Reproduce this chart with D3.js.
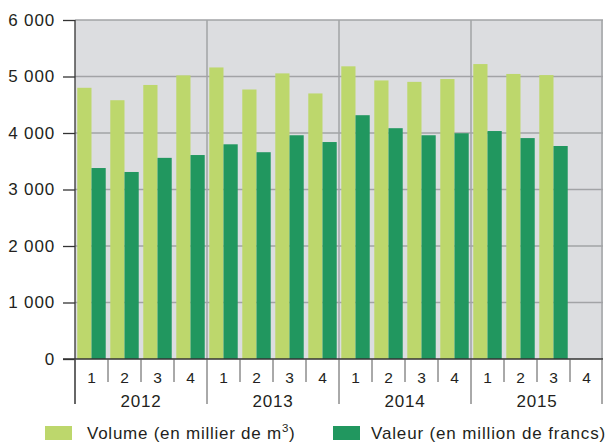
<!DOCTYPE html>
<html>
<head>
<meta charset="utf-8">
<script src="https://cdn.jsdelivr.net/npm/d3@7"></script>
<style>
  body{margin:0;background:#fff;}
  text{font-family:"Liberation Sans",Arial,sans-serif;fill:#231f20;}
</style>
</head>
<body>
<div id="chart"></div>
<script>
const years=["2012","2013","2014","2015"];
const quarters=["1","2","3","4"];
// one entry per quarter, 2012 Q1 … 2015 Q4 (null = not yet published)
const volume=[4800,4580,4850,5020, 5160,4770,5055,4700, 5180,4930,4905,4955, 5220,5045,5025,null];
const valeur=[3380,3310,3560,3610, 3800,3660,3960,3840, 4315,4085,3960,3995, 4035,3910,3770,null];
const yTicks=[0,1000,2000,3000,4000,5000,6000];
const seriesNames=["Volume (en millier de m","Valeur (en million de francs)"];

const W=605,H=443;
const m={l:75,r:2,t:20,b:84};
const svg=d3.select("#chart").append("svg").attr("width",W).attr("height",H);

const keys=years.flatMap(y=>quarters.map(q=>y+"-"+q));
const x=d3.scaleBand().domain(keys).range([m.l,W-m.r]);
const xs=d3.scaleBand().domain(["vol","val"]).range([0,x.bandwidth()]).paddingOuter(0.16);
const y=d3.scaleLinear().domain([0,6000]).range([H-m.b,m.t]);
const yearX=d3.scaleBand().domain(years).range([m.l,W-m.r]);

const light="#bdd76c",dark="#21975f";
const ls=0.85; // the original type is set a touch wider than Arial

svg.append("rect").attr("x",m.l).attr("y",m.t)
  .attr("width",W-m.r-m.l).attr("height",y(0)-m.t).attr("fill","#dcdde0");

svg.selectAll(".grid").data(yTicks.slice(1)).join("line")
  .attr("x1",m.l).attr("x2",W-m.r)
  .attr("y1",d=>y(d)).attr("y2",d=>y(d))
  .attr("stroke","#a2a3a6").attr("stroke-width",1.3);

svg.selectAll(".ysep").data(years.slice(1).concat("end")).join("line")
  .attr("x1",d=>d==="end"?W-m.r-1:yearX(d)).attr("x2",d=>d==="end"?W-m.r-1:yearX(d))
  .attr("y1",m.t).attr("y2",y(0))
  .attr("stroke","#a2a3a6").attr("stroke-width",1.5);

const rows=keys.map((k,i)=>({k,vol:volume[i],val:valeur[i]}));
const g=svg.append("g");
rows.forEach(r=>{
  [["vol",light],["val",dark]].forEach(([s,c])=>{
    if(r[s]==null) return;
    g.append("rect")
      .attr("x",x(r.k)+xs(s)).attr("width",xs.bandwidth())
      .attr("y",y(r[s])).attr("height",y(0)-y(r[s]))
      .attr("fill",c);
  });
});

// y axis
const ya=svg.append("g").attr("transform",`translate(${m.l},0)`)
  .call(d3.axisLeft(y).tickValues(yTicks).tickSize(12).tickPadding(8)
    .tickFormat(d=>d3.format(",")(d).replace(/,/g," ")));
ya.select(".domain").attr("stroke","#333").attr("stroke-width",1.3)
  .attr("d",`M0,${y(0)+45}V${m.t}`);
ya.selectAll(".tick line").attr("stroke","#333").attr("stroke-width",1.3);
ya.selectAll(".tick text").attr("font-size",17).attr("letter-spacing",ls)
  .attr("font-family","Liberation Sans, Arial, sans-serif").attr("fill","#231f20");

// x axis line
svg.append("line").attr("x1",m.l-12).attr("x2",W-m.r)
  .attr("y1",y(0)).attr("y2",y(0)).attr("stroke","#333").attr("stroke-width",1.3);

// quarter separators and labels
svg.selectAll(".qsep").data(keys).join("line")
  .attr("x1",d=>x(d)).attr("x2",d=>x(d))
  .attr("y1",y(0)).attr("y2",d=>d.endsWith("-1")?y(0)+45:y(0)+23)
  .attr("stroke","#555").attr("stroke-width",1);
svg.append("line").attr("x1",W-m.r-1).attr("x2",W-m.r-1)
  .attr("y1",y(0)).attr("y2",y(0)+45).attr("stroke","#555");
svg.selectAll(".ql").data(keys).join("text")
  .attr("x",d=>x(d)+x.bandwidth()/2).attr("y",y(0)+24)
  .attr("text-anchor","middle").attr("font-size",15.5)
  .text(d=>d.split("-")[1]);
svg.selectAll(".yl").data(years).join("text")
  .attr("x",d=>yearX(d)+yearX.bandwidth()/2).attr("y",y(0)+48)
  .attr("text-anchor","middle").attr("font-size",17).attr("letter-spacing",ls)
  .text(d=>d);

// legend
const lg=svg.append("g").attr("transform",`translate(0,${H-17})`);
lg.append("rect").attr("x",45).attr("y",0).attr("width",27).attr("height",14).attr("fill",light);
const t1=lg.append("text").attr("x",87).attr("y",12.5).attr("font-size",17).attr("letter-spacing",0.75);
t1.append("tspan").text(seriesNames[0]);
t1.append("tspan").attr("font-size",11.5).attr("dy",-7).text("3");
t1.append("tspan").attr("dy",7).text(")");
lg.append("rect").attr("x",333).attr("y",0).attr("width",27).attr("height",14).attr("fill",dark);
lg.append("text").attr("x",371).attr("y",12.5).attr("font-size",17).attr("letter-spacing",ls)
  .text(seriesNames[1]);
</script>
</body>
</html>
